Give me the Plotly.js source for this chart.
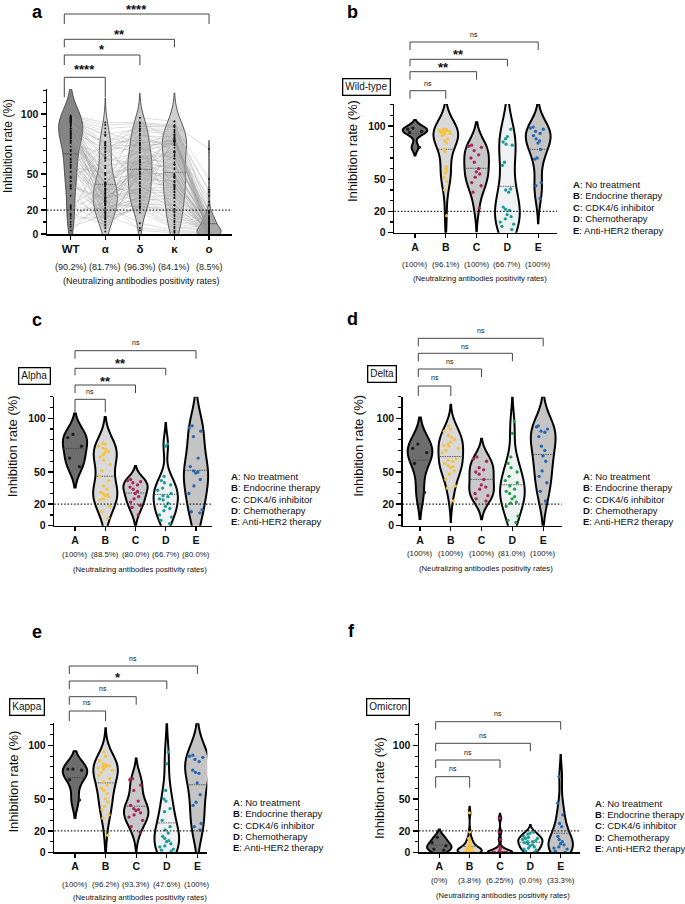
<!DOCTYPE html>
<html>
<head>
<meta charset="utf-8">
<script src="https://cdn.plot.ly/plotly-3.0.1.min.js"></script>
<style>body{margin:0;background:#fff}</style>
</head>
<body>
<div id="plot" style="width:685px;height:904px"></div>
<script>
// categories
var variants = ['WT', 'α', 'δ', 'κ', 'ο']
var variantRates = ['(90.2%)', '(81.7%)', '(96.3%)', '(84.1%)', '(8.5%)']
var groups = ['A', 'B', 'C', 'D', 'E']
var groupNames = ['No treatment', 'Endocrine therapy', 'CDK4/6 inhibitor', 'Chemotherapy', 'Anti-HER2 therapy']
var variantNames = ['Wild-type', 'Alpha', 'Delta', 'Kappa', 'Omicron']

// positivity rates per group, one list per variant
var rates_wt = ['(100%)', '(96.1%)', '(100%)', '(66.7%)', '(100%)']
var rates_al = ['(100%)', '(88.5%)', '(80.0%)', '(66.7%)', '(80.0%)']
var rates_de = ['(100%)', '(100%)', '(100%)', '(81.0%)', '(100%)']
var rates_ka = ['(100%)', '(96.2%)', '(93.3%)', '(47.6%)', '(100%)']
var rates_om = ['(0%)', '(3.8%)', '(6.25%)', '(0.0%)', '(33.3%)']

// significance labels (WT vs α, δ, κ, ο  /  A vs B, C, D, E)
var sig_a = ['****', '*', '**', '****']
var sig_wt = ['ns', '**', '**', 'ns']
var sig_al = ['ns', '**', '**', 'ns']
var sig_de = ['ns', 'ns', 'ns', 'ns']
var sig_ka = ['ns', 'ns', '*', 'ns']
var sig_om = ['ns', 'ns', 'ns', 'ns']

// inhibition rate (%) per patient, by group (same patient order across variants)
var wt_A = [97, 95, 98, 94, 80]
var wt_B = [97, 96, 95, 97, 94, 96, 93, 95, 92, 96, 94, 91, 93, 88, 86, 84, 78, 76, 62, 60, 58, 56, 52, 48, 40, 16]
var wt_C = [82, 80, 81, 77, 73, 70, 66, 60, 57, 55, 52, 47, 44, 38, 23]
var wt_D = [97, 90, 88, 85, 83, 82, 66, 63, 41, 40, 38, 24, 22, 21, 17, 15, 13, 10, 8, 6, 3]
var wt_E = [99, 98, 97, 95, 93, 91, 88, 86, 84, 78, 70, 69, 47, 44, 32]

var al_A = [85, 82, 74, 63, 55]
var al_B = [46, 77, 31, 64, 24, 72, 29, 13, 68, 37, 57, 76, 27, 18, 71, 42, 30, 66, 25, 7, 74, 51, 34, 61, 28, 69]
var al_C = [43, 42, 41, 40, 38, 36, 34, 32, 30, 27, 25, 22, 19, 17, 10]
var al_D = [40, 76, 10, 33, 2, 46, 25, 18, 74, 30, 5, 42, 21, 35, 8, 27, 14, 38, 24, 16, 28]
var al_E = [93, 91, 88, 83, 63, 55, 51, 50, 49, 43, 37, 30, 15, 13, 12]

var de_A = [76, 72, 68, 58, 31]
var de_B = [62, 90, 48, 75, 23, 82, 56, 70, 93, 37, 61, 78, 54, 84, 43, 72, 35, 88, 60, 51, 74, 55, 80, 68, 58, 76]
var de_C = [64, 62, 60, 54, 52, 50, 48, 43, 38, 36, 34, 30, 28, 25, 23]
var de_D = [97, 86, 64, 58, 54, 50, 46, 42, 40, 37, 34, 32, 30, 27, 25, 22, 21, 18, 9, 5, 3]
var de_E = [93, 92, 90, 88, 87, 83, 74, 70, 65, 60, 51, 46, 40, 32, 23]

var ka_A = [78, 78, 77, 68, 49]
var ka_B = [94, 90, 86, 83, 82, 81, 80, 80, 79, 78, 77, 75, 72, 69, 66, 63, 60, 58, 55, 50, 47, 43, 40, 35, 32, 16]
var ka_C = [69, 68, 63, 58, 48, 44, 41, 40, 39, 37, 35, 33, 30, 24, 19]
var ka_D = [94, 83, 58, 50, 48, 41, 38, 30, 24, 21, 18, 15, 13, 11, 10, 8, 6, 5, 3, 2, 1]
var ka_E = [91, 90, 89, 87, 85, 77, 75, 74, 65, 54, 47, 44, 27, 24, 21]

var om_A = [14, 9, 6, 3, 2]
var om_B = [3, 0, 37, 1, 8, 0, 12, 2, 0, 19, 4, 1, 0, 6, 2, 13, 0, 5, 1, 3, 0, 10, 4, 7, 2, 0]
var om_C = [32, 19, 12, 5, 3, 1, 0, 0, 0, 0, 0, 0, 0, 0, 0]
var om_D = [19, 18, 17, 15, 14, 13, 13, 12, 11, 10, 10, 9, 8, 7, 6, 5, 4, 3, 2, 1, 0]
var om_E = [71, 46, 35, 27, 24, 15, 12, 10, 8, 7, 5, 4, 3, 1, 0]

var series = [
	[wt_A, wt_B, wt_C, wt_D, wt_E],
	[al_A, al_B, al_C, al_D, al_E],
	[de_A, de_B, de_C, de_D, de_E],
	[ka_A, ka_B, ka_C, ka_D, ka_E],
	[om_A, om_B, om_C, om_D, om_E]
]
var seriesRates = [rates_wt, rates_al, rates_de, rates_ka, rates_om]
var seriesSig = [sig_wt, sig_al, sig_de, sig_ka, sig_om]

var W = 685, H = 904
function fx(x) { return x / W }
function fy(y) { return 1 - y / H }

var FONT = 'Arial, "Liberation Sans", sans-serif'
var groupFill = ['#6d6d6d', '#d9d9d9', '#c8c8c8', '#eff2f2', '#c4c4c4']
var groupDot = ['#1c1c1c', '#f5c242', '#a8245c', '#1a9c98', '#2466b0']
var variantFill = ['#858585', '#d4d4d4', '#c6c6c6', '#cfcfcf', '#a9a9a9']

// panel placement in pixels
var panels = [
	{letter: 'a', lx: 31, ly: 12, left: 47, right: 232, top: 89, bottom: 234, cat0: 70.7, step: 34.58, ymax: 121,
	 brL: -6.4, brY: [77.3, 55, 39.3, 14], txY: [66.7, 46.7, 31.7, 6.7], drop: [20, 10, 8, 10],
	 rateY: 266.7, noteX: 141.7, noteY: 281, titleX: 7.5, titleY: 146.5},
	{letter: 'b', lx: 346, ly: 12, left: 394.3, right: 557, top: 104, bottom: 232.7, cat0: 415, step: 30.8, ymax: 120.6,
	 brL: -5, brY: [90.7, 71.7, 59.3, 42], txY: [83.3, 64.3, 51, 34], drop: [8, 8, 7, 8],
	 rateY: 264.5, noteX: 479.7, noteY: 278.2, titleX: 352, titleY: 151,
	 boxX: 366.3, boxY: 87, legX: 572, legY: 184.3, legStep: 11.45},
	{letter: 'c', lx: 31, ly: 320, left: 54.3, right: 211.7, top: 396.7, bottom: 525.7, cat0: 75, step: 30.25, ymax: 120.1,
	 brL: 0, brY: [399.3, 385, 368.3, 350.7], txY: [391.7, 378.3, 360, 342.3], drop: [13, 8, 7, 8],
	 rateY: 554.5, noteX: 139.7, noteY: 569.2, titleX: 12.5, titleY: 446.7,
	 boxX: 34.5, boxY: 375.5, legX: 230, legY: 476.7, legStep: 11.25},
	{letter: 'd', lx: 346, ly: 319, left: 402.7, right: 561.7, top: 396.7, bottom: 525.7, cat0: 420, step: 30.8, ymax: 120.1,
	 brL: -1.7, brY: [386, 369, 353.3, 338.3], txY: [377.3, 361.7, 346, 330.7], drop: [10, 8, 8, 8],
	 rateY: 553.5, noteX: 486.3, noteY: 568.2, titleX: 359, titleY: 445.8,
	 boxX: 382.3, boxY: 374.2, legX: 581.7, legY: 476.7, legStep: 11.25},
	{letter: 'e', lx: 31, ly: 632, left: 54.3, right: 207.3, top: 723.3, bottom: 852.3, cat0: 75, step: 30.6, ymax: 120.9,
	 brL: -5.7, brY: [711, 696.7, 681, 666], txY: [702.7, 688.3, 674, 658.3], drop: [10, 8, 8, 8],
	 rateY: 884, noteX: 140, noteY: 897, titleX: 12.5, titleY: 782,
	 boxX: 27, boxY: 706.7, legX: 232.3, legY: 802.3, legStep: 11.35},
	{letter: 'f', lx: 347, ly: 631, left: 419, right: 580, top: 723.3, bottom: 852.3, cat0: 439.3, step: 30.35, ymax: 120.9,
	 brL: -3.6, brY: [776.7, 760, 743.3, 721.7], txY: [768.3, 752.3, 735.7, 713.3], drop: [11, 8, 8, 8],
	 rateY: 880.5, noteX: 503.3, noteY: 895.5, titleX: 379, titleY: 788,
	 boxX: 388.3, boxY: 707, legX: 594, legY: 803.3, legStep: 11.25}
]

var data = []
var layout = {
	width: W, height: H,
	margin: {l: 0, r: 0, t: 0, b: 0},
	paper_bgcolor: '#fff', plot_bgcolor: 'rgba(0,0,0,0)',
	font: {family: FONT, color: '#111'},
	violinmode: 'overlay',
	showlegend: false,
	hovermode: false,
	annotations: [],
	shapes: []
}

function note(x, y, text, size, extra) {
	var a = {x: fx(x), y: fy(y), xref: 'paper', yref: 'paper', text: text, showarrow: false,
		font: {family: FONT, size: size, color: '#111'}, xanchor: 'center', yanchor: 'middle'}
	for (var k in extra) a[k] = extra[k]
	layout.annotations.push(a)
}

panels.forEach(function (p, k) {
	var n = k === 0 ? '' : String(k + 1)
	var xa = 'x' + n, ya = 'y' + n
	var cats = k === 0 ? variants : groups
	var lo = -(p.cat0 - p.left) / p.step
	var hi = lo + (p.right - p.left) / p.step
	var big = k === 0

	layout['xaxis' + n] = {
		domain: [fx(p.left), fx(p.right)], anchor: ya, type: 'category',
		categoryorder: 'array', categoryarray: cats, range: [lo, hi],
		showline: true, linecolor: '#000', linewidth: 1.5,
		ticks: 'outside', ticklen: 4, tickwidth: 1.2, tickcolor: '#000',
		tickfont: {family: FONT, size: big ? 11.5 : 10.5, weight: 'bold', color: '#111'},
		showgrid: false, zeroline: false, fixedrange: true
	}
	layout['yaxis' + n] = {
		domain: [fy(p.bottom), fy(p.top)], anchor: xa, range: [0, p.ymax],
		tickmode: 'array', tickvals: [0, 20, 50, 100],
		showline: true, linecolor: '#000', linewidth: 1.5,
		ticks: 'outside', ticklen: 5, tickwidth: 1.5, tickcolor: '#000',
		minor: {tickmode: 'array', tickvals: [10, 30, 40, 60, 70, 80, 90, 110, 120],
			ticks: 'outside', ticklen: 3, tickwidth: 1.1, tickcolor: '#000'},
		tickfont: {family: FONT, size: 10.5, weight: 'bold', color: '#111'},
		showgrid: false, zeroline: false, fixedrange: true
	}

	// dotted 20% cut-off
	layout.shapes.push({type: 'line', xref: xa + ' domain', yref: ya, x0: 0, x1: 1, y0: 20, y1: 20,
		line: {color: '#222', width: 1.2, dash: '1.5px,1.8px'}})

	if (big) {
		// violins of all patients per variant
		series.forEach(function (s, v) {
			var vals = [].concat.apply([], s)
			data.push({type: 'violin', xaxis: xa, yaxis: ya,
				x: vals.map(function () { return variants[v] }), y: vals,
				fillcolor: variantFill[v], line: {color: '#333', width: 0.8},
				points: false, scalemode: 'width', width: 0.7, spanmode: 'soft',
				meanline: {visible: true, color: '#333', width: 0.7}, hoverinfo: 'skip'})
		})
		// paired lines per patient
		var lx = [], ly = []
		for (var g = 0; g < groups.length; g++) {
			for (var i = 0; i < series[0][g].length; i++) {
				for (var v = 0; v < variants.length; v++) {
					lx.push(variants[v]); ly.push(series[v][g][i])
				}
				lx.push(null); ly.push(null)
			}
		}
		data.push({type: 'scatter', mode: 'lines+markers', xaxis: xa, yaxis: ya, x: lx, y: ly,
			connectgaps: false, line: {color: 'rgba(150,150,150,0.6)', width: 0.55},
			marker: {color: '#111', size: 1.9}, hoverinfo: 'skip'})
	} else {
		var s = series[k - 1]
		s.forEach(function (vals, g) {
			var dot = groupDot[g]
			if (k === 3 && g === 3) dot = '#22a04b'
			data.push({type: 'violin', xaxis: xa, yaxis: ya,
				x: vals.map(function () { return groups[g] }), y: vals,
				fillcolor: groupFill[g], line: {color: '#000', width: 2},
				points: 'all', pointpos: 0, jitter: 0.7,
				marker: {color: dot, size: 3.3, line: {width: 0}},
				scalemode: 'width', width: 0.8, spanmode: 'soft',
				meanline: {visible: true, color: '#444', width: 0.8}, hoverinfo: 'skip'})
		})
	}

	// brackets
	var sig = big ? sig_a : seriesSig[k - 1]
	var xL = (p.brL / p.step - lo) / (hi - lo)
	for (var j = 0; j < 4; j++) {
		var xR = (j + 1 - lo) / (hi - lo)
		var yb = fy(p.brY[j]), yd = fy(p.brY[j] + p.drop[j])
		var ln = {color: '#444', width: 1}
		layout.shapes.push({type: 'line', xref: xa + ' domain', yref: 'paper', x0: xL, x1: xR, y0: yb, y1: yb, line: ln})
		layout.shapes.push({type: 'line', xref: xa + ' domain', yref: 'paper', x0: xL, x1: xL, y0: yb, y1: yd, line: ln})
		layout.shapes.push({type: 'line', xref: xa + ' domain', yref: 'paper', x0: xR, x1: xR, y0: yb, y1: yd, line: ln})
		var star = sig[j].indexOf('*') >= 0
		layout.annotations.push({xref: xa, yref: 'paper', x: (p.brL / p.step + j + 1) / 2,
			y: fy(p.txY[j] + (star ? 3 : 0)), text: sig[j], showarrow: false,
			xanchor: 'center', yanchor: 'middle', borderpad: 0,
			font: {family: FONT, size: star ? 13 : 7, weight: star ? 'bold' : 'normal', color: '#111'}})
	}

	// positivity rates under each category
	var rates = big ? variantRates : seriesRates[k - 1]
	rates.forEach(function (r, c) {
		layout.annotations.push({xref: xa, yref: 'paper', x: c, y: fy(p.rateY), text: r, showarrow: false,
			xanchor: 'center', yanchor: 'middle', borderpad: 0,
			font: {family: FONT, size: big ? 9 : 7.8, color: '#222'}})
	})
	note(p.noteX, p.noteY, '(Neutralizing antibodies positivity rates)', big ? 9 : 7.7, {borderpad: 0})
	note(p.titleX, p.titleY, 'Inhibition rate (%)', big ? 12 : 13, {textangle: -90})
	note(p.lx, p.ly, p.letter, 18, {xanchor: 'left', borderpad: 0, font: {family: FONT, size: 18, weight: 'bold', color: '#000'}})

	if (!big) {
		note(p.boxX, p.boxY, variantNames[k - 1], 10, {bordercolor: '#000', borderwidth: 1.3, borderpad: 2})
		groupNames.forEach(function (name, g) {
			note(p.legX, p.legY + g * p.legStep, '<b>' + groups[g] + '</b>: ' + name, 9.5, {xanchor: 'left', borderpad: 0})
		})
	}
})

Plotly.newPlot('plot', data, layout, {displayModeBar: false, staticPlot: true})
</script>
</body>
</html>
